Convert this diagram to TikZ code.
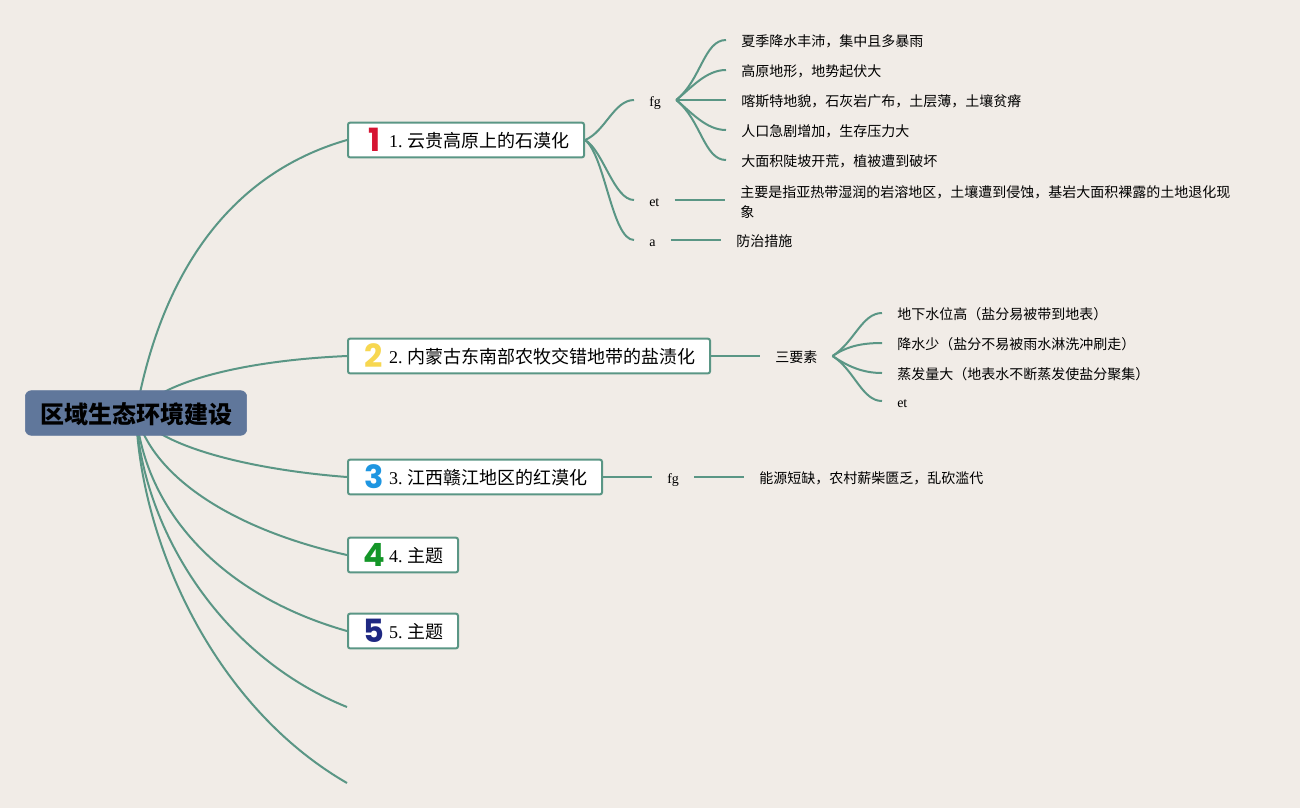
\documentclass[tikz,border=0pt]{standalone}
\usepackage{fontspec}
\setmainfont{Liberation Serif}
\newfontfamily\cjk{Noto Sans CJK SC}
\newfontfamily\iconfont{Poppins}
\definecolor{pagebg}{RGB}{241,236,231}
\definecolor{linkgreen}{RGB}{90,150,133}
\definecolor{rootblue}{RGB}{96,119,155}
\definecolor{iconred}{RGB}{214,20,50}
\definecolor{iconyellow}{RGB}{247,215,80}
\definecolor{iconblue}{RGB}{30,150,225}
\definecolor{icongreen}{RGB}{20,150,40}
\definecolor{iconnavy}{RGB}{30,40,130}
\pgfdeclarelayer{links}
\pgfsetlayers{links,main}
\newcommand{\topicno}[1]{\hspace*{30.75pt}#1.\hspace{3.4pt}}
\tikzset{
  rootbox/.style={draw=rootblue,fill=rootblue,rounded corners=4.5pt,minimum width=166pt,minimum height=33.5pt,inner sep=0pt,text height=18pt,text depth=2.2pt,font=\cjk\bfseries\fontsize{18}{22}\selectfont},
  topicbox/.style={draw=linkgreen,fill=white,line width=1.5pt,rounded corners=1.5pt,anchor=west,minimum height=26pt,inner sep=0pt,text height=13.5pt,text depth=1.7pt,align=left,font=\fontsize{13.5}{18}\selectfont},
  numicon/.style={inner sep=0pt,font=\iconfont\bfseries\fontsize{24}{24}\selectfont},
  leaf/.style={anchor=west,inner xsep=11.25pt,inner ysep=0pt,text height=10.5pt,text depth=1.5pt,align=left,font=\fontsize{10.5}{15}\selectfont},
  link/.style={draw=linkgreen,line width=1.5pt},
}
\begin{document}
\begin{tikzpicture}[x=0.75pt,y=0.75pt,yscale=-1,xscale=1]
\useasboundingbox (0,0) rectangle (1300,808);

% Root
\node [rootbox] (root) at (136,413) {区域生态环境建设};

% Topics
\node [topicbox,text width=177pt] (topicA) at (347,140) {\topicno{1}{\cjk 云贵高原上的石漠化}};
\node [topicbox,text width=271.5pt] (topicB) at (347,356) {\topicno{2}{\cjk 内蒙古东南部农牧交错地带的盐渍化}};
\node [topicbox,text width=190.5pt] (topicC) at (347,477) {\topicno{3}{\cjk 江西赣江地区的红漠化}};
\node [topicbox,text width=82.5pt] (topicD) at (347,555) {\topicno{4}{\cjk 主题}};
\node [topicbox,text width=82.5pt] (topicE) at (347,631) {\topicno{5}{\cjk 主题}};
\coordinate (topicF) at (347,707);
\coordinate (topicG) at (347,783);

% Number icons
\node [numicon,text=iconred] (iconA) at (375,140) {1};
\node [numicon,text=iconyellow] (iconB) at (374,356) {2};
\node [numicon,text=iconblue] (iconC) at (374,477) {3};
\node [numicon,text=icongreen] (iconD) at (374,555) {4};
\node [numicon,text=iconnavy] (iconE) at (374,631) {5};

% Text Node
\node [leaf] (fgA) at (634,100) {fg};
\node [leaf] (etA) at (634,200) {et};
\node [leaf] (aA) at (634,240) {a};
\node [leaf] (rain) at (726,40) {\cjk 夏季降水丰沛，集中且多暴雨};
\node [leaf] (plateau) at (726,70) {\cjk 高原地形，地势起伏大};
\node [leaf] (karst) at (726,100) {\cjk 喀斯特地貌，石灰岩广布，土层薄，土壤贫瘠};
\node [leaf] (people) at (726,130) {\cjk 人口急剧增加，生存压力大};
\node [leaf] (slope) at (726,160) {\cjk 大面积陡坡开荒，植被遭到破坏};
\node [leaf,text height=,text depth=] (define) at (725,200) {\rule{0pt}{12pt}\cjk 主要是指亚热带湿润的岩溶地区，土壤遭到侵蚀，基岩大面积裸露的土地退化现\\\cjk 象};
\node [leaf] (measure) at (721,240) {\cjk 防治措施};
% Text Node
\node [leaf] (three) at (760,356) {\cjk 三要素};
\node [leaf] (water) at (882,313) {\cjk 地下水位高（盐分易被带到地表）};
\node [leaf] (less) at (882,343) {\cjk 降水少（盐分不易被雨水淋洗冲刷走）};
\node [leaf] (evap) at (882,373) {\cjk 蒸发量大（地表水不断蒸发使盐分聚集）};
\node [leaf] (etB) at (882,401) {et};
% Text Node
\node [leaf] (fgC) at (652,477) {fg};
\node [leaf] (energy) at (744,477) {\cjk 能源短缺，农村薪柴匮乏，乱砍滥代};

\begin{pgfonlayer}{links}
\fill [pagebg] (0,0) rectangle (1300,808);
% Root links
\draw [link] (root.center) .. controls (160,280) and (225,175) .. (topicA.west);
\draw [link] (root.center) .. controls (165,378) and (255,360) .. (topicB.west);
\draw [link] (root.center) .. controls (160,448) and (255,470) .. (topicC.west);
\draw [link] (root.center) .. controls (152,478) and (235,530) .. (topicD.west);
\draw [link] (root.center) .. controls (145,510) and (220,595) .. (topicE.west);
\draw [link] (root.center) .. controls (141,525) and (218,655) .. (topicF);
\draw [link] (root.center) .. controls (140,540) and (212,705) .. (topicG);
% Topic A links
\draw [link] (topicA.east) .. controls +(20,-8) and +(-20,0) .. (fgA.west);
\draw [link] (topicA.east) .. controls +(18,10) and +(-20,0) .. (etA.west);
\draw [link] (topicA.east) .. controls +(20,15) and +(-22,0) .. (aA.west);
\draw [link] (fgA.east) .. controls +(25,-20) and +(-22,0) .. (rain.west);
\draw [link] (fgA.east) .. controls +(15,-12) and +(-20,0) .. (plateau.west);
\draw [link] (fgA.east) -- (karst.west);
\draw [link] (fgA.east) .. controls +(15,12) and +(-20,0) .. (people.west);
\draw [link] (fgA.east) .. controls +(25,20) and +(-22,0) .. (slope.west);
\draw [link] (etA.east) -- (define.west);
\draw [link] (aA.east) -- (measure.west);
% Topic B links
\draw [link] (topicB.east) -- (three.west);
\draw [link] (three.east) .. controls +(22,-14) and +(-20,0) .. (water.west);
\draw [link] (three.east) .. controls +(15,-10) and +(-20,0) .. (less.west);
\draw [link] (three.east) .. controls +(15,10) and +(-20,0) .. (evap.west);
\draw [link] (three.east) .. controls +(22,14) and +(-20,0) .. (etB.west);
% Topic C links
\draw [link] (topicC.east) -- (fgC.west);
\draw [link] (fgC.east) -- (energy.west);
\end{pgfonlayer}

\end{tikzpicture}
\end{document}
